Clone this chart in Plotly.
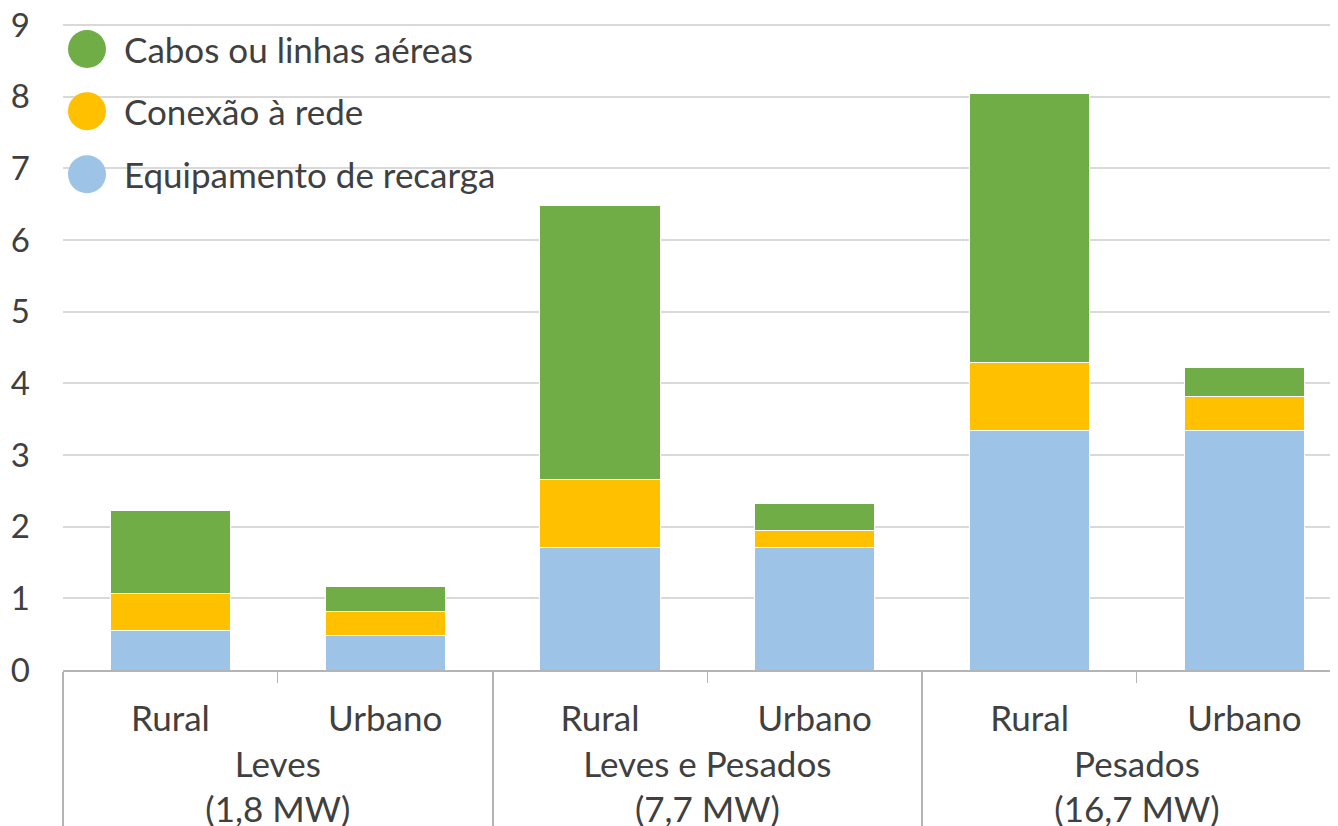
import plotly.graph_objects as go

# categorias (nível externo / interno)
grupos = ["Leves<br>(1,8 MW)", "Leves e Pesados<br>(7,7 MW)", "Pesados<br>(16,7 MW)"]
locais = ["Rural", "Urbano"]

# valores (empilhados, de baixo para cima)
equipamento = [0.55, 0.48, 1.71, 1.71, 3.34, 3.34]
conexao = [0.52, 0.33, 0.95, 0.23, 0.95, 0.47]
cabos = [1.16, 0.36, 3.82, 0.39, 3.75, 0.41]

series = [
    ("Equipamento de recarga", equipamento, "#9DC3E6"),
    ("Conexão à rede", conexao, "#FFC000"),
    ("Cabos ou linhas aéreas", cabos, "#70AD47"),
]

# espaço "alto" nos rótulos internos para afastar o nível externo
pad = "<span style='font-size:51px'>\u00a0</span>"
x_outer = [g for g in grupos for _ in locais]
x_inner = [pad + l + pad for _ in grupos for l in locais]

FONT = "Lato"
TXT = "#404040"
LINE = "#b4b4b4"

fig = go.Figure()
for name, vals, color in series:
    fig.add_trace(go.Bar(
        x=[x_outer, x_inner], y=vals, name=name,
        marker=dict(color=color, line=dict(color="white", width=1)),
        showlegend=False,
    ))

# legenda desenhada à mão (círculos grandes); página tem 8px de margem
leg_y = [50, 112, 175]
for (name, _, color), yy in zip(reversed(series), leg_y):
    fig.add_shape(type="circle", xref="paper", yref="paper",
                  xsizemode="pixel", ysizemode="pixel",
                  xanchor=(87 - 63) / 1275, yanchor=1 + (25 - yy) / 645,
                  x0=-19, x1=19, y0=-19, y1=19,
                  fillcolor=color, line=dict(width=0))
    fig.add_annotation(text=name, xref="paper", yref="paper",
                       x=(122 - 63) / 1275, y=1 + (25 - yy) / 645,
                       xanchor="left", yanchor="middle", showarrow=False,
                       font=dict(family=FONT, size=35, color=TXT))

fig.update_layout(
    barmode="stack",
    bargap=0.44,
    width=1330, height=818,
    margin=dict(l=55, r=0, t=16, b=156),
    plot_bgcolor="white", paper_bgcolor="white",
    font=dict(family=FONT, color=TXT),
)
fig.update_yaxes(
    range=[0, 9.015], dtick=1, showgrid=True, gridcolor="#d9d9d9", gridwidth=1.5,
    zeroline=False, showline=False, ticks="", automargin=False,
    ticklabeloverflow="allow",
    tickfont=dict(size=33, color=TXT), ticklabelstandoff=32,
)
fig.update_xaxes(
    type="multicategory", range=[-0.5, 5.436], automargin=False,
    showline=True, linecolor=LINE, linewidth=1.5,
    ticks="outside", ticklen=11, tickcolor=LINE, tickson="boundaries",
    showdividers=True, dividercolor=LINE, dividerwidth=1.5,
    tickfont=dict(size=35, color=TXT), ticklabelstandoff=17,
)

fig.write_html("out.html")
